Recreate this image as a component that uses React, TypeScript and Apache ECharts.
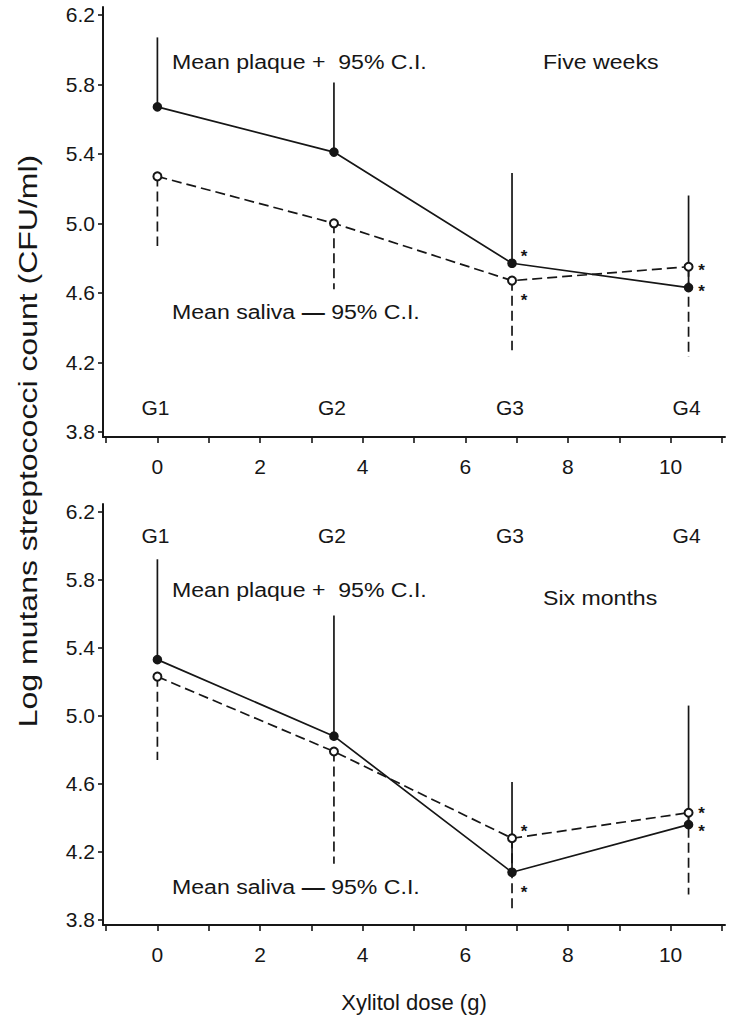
import React, { useEffect, useRef } from "react";
import * as echarts from "echarts";

// ---------- data ----------
const groups = ["G1", "G2", "G3", "G4"];
const dose = [0, 3.44, 6.91, 10.35];

const fiveWeeksPlaque = [5.67, 5.41, 4.77, 4.63];
const fiveWeeksPlaqueUpper = [6.07, 5.81, 5.29, 5.16];
const fiveWeeksSaliva = [5.27, 5.0, 4.67, 4.75];
const fiveWeeksSalivaLower = [4.87, 4.62, 4.27, 4.23];
const fiveWeeksPlaqueStar = ["", "", "above", "right"];
const fiveWeeksSalivaStar = ["", "", "below", "right"];

const sixMonthsPlaque = [5.33, 4.88, 4.08, 4.36];
const sixMonthsPlaqueUpper = [5.92, 5.59, 4.61, 5.06];
const sixMonthsSaliva = [5.23, 4.79, 4.28, 4.43];
const sixMonthsSalivaLower = [4.74, 4.13, 3.86, 3.95];
const sixMonthsPlaqueStar = ["", "", "below", "downright"];
const sixMonthsSalivaStar = ["", "", "above", "upright"];

const yTicks = [3.8, 4.2, 4.6, 5.0, 5.4, 5.8, 6.2];
const xTicks = [-1, 0, 1, 2, 3, 4, 5, 6, 7, 8, 9, 10, 11];
const xTickLabels = [0, 2, 4, 6, 8, 10];

const panelTitles = ["Five weeks", "Six months"];
const plaqueNote = "Mean plaque +  95% C.I.";
const salivaNote = "Mean saliva {b|\u2014} 95% C.I.";
const xTitle = "Xylitol dose (g)";
const yTitle = "Log mutans streptococci count (CFU/ml)";

// ---------- styles ----------
const INK = "#161616";
const FONT = "'Liberation Sans', Arial, sans-serif";

const STAR_OFFSETS: Record<string, number[]> = {
  above: [12, -11],
  below: [12, 16],
  right: [13, 0],
  upright: [13, -3],
  downright: [13, 3],
};

function lineSeries(idx: number, values: number[], dashed: boolean) {
  return {
    type: "line",
    xAxisIndex: idx,
    yAxisIndex: idx,
    data: dose.map((d, i) => [d, values[i]]),
    symbol: dashed ? "emptyCircle" : "circle",
    symbolSize: 8,
    showSymbol: true,
    itemStyle: { color: INK, borderColor: INK, borderWidth: 1.6 },
    lineStyle: { color: INK, width: 1.7, type: dashed ? [10, 5] : "solid" },
    z: 3,
    silent: true,
  };
}

function errorBarSeries(idx: number, means: number[], bounds: number[], dashed: boolean) {
  return {
    type: "custom",
    xAxisIndex: idx,
    yAxisIndex: idx,
    data: dose.map((d, i) => [d, means[i], bounds[i]]),
    renderItem: (params: any, api: any) => {
      const p1 = api.coord([api.value(0), api.value(1)]);
      const p2 = api.coord([api.value(0), api.value(2)]);
      return {
        type: "line",
        shape: { x1: p1[0], y1: p1[1], x2: p2[0], y2: p2[1] },
        style: { stroke: INK, lineWidth: 1.7, lineDash: dashed ? [10, 5] : null, fill: null },
      };
    },
    z: 2,
    silent: true,
  };
}

function starSeries(idx: number, values: number[], places: string[]) {
  const idxs = places.map((p, i) => (p ? i : -1)).filter((i) => i >= 0);
  return {
    type: "custom",
    xAxisIndex: idx,
    yAxisIndex: idx,
    data: idxs.map((i) => [dose[i], values[i]]),
    renderItem: (params: any, api: any) => {
      const i = idxs[params.dataIndex];
      const off = STAR_OFFSETS[places[i]] || [13, 0];
      const p = api.coord([api.value(0), api.value(1)]);
      return {
        type: "text",
        x: p[0] + off[0],
        y: p[1] + off[1] + 4,
        style: {
          text: "*",
          fontSize: 17,
          fontWeight: "bold",
          fontFamily: FONT,
          fill: INK,
          align: "center",
          verticalAlign: "middle",
        },
      };
    },
    z: 4,
    silent: true,
  };
}

function groupLabelSeries(idx: number, level: number) {
  return {
    type: "custom",
    xAxisIndex: idx,
    yAxisIndex: idx,
    data: dose.map((d) => [d, level]),
    renderItem: (params: any, api: any) => {
      const p = api.coord([api.value(0), api.value(1)]);
      return {
        type: "text",
        x: p[0] - 2,
        y: p[1],
        style: {
          text: groups[params.dataIndex],
          fontSize: 21,
          fontFamily: FONT,
          fill: INK,
          align: "center",
          verticalAlign: "middle",
        },
      };
    },
    z: 4,
    silent: true,
  };
}

function xAxis(idx: number, withName: boolean) {
  return {
    type: "value",
    gridIndex: idx,
    min: -1.06,
    max: 11.06,
    name: withName ? xTitle : "",
    nameLocation: "middle",
    nameGap: 66,
    nameTextStyle: { fontSize: 22, fontFamily: FONT, color: INK },
    axisLine: { show: true, onZero: false, lineStyle: { color: INK, width: 2 } },
    axisTick: { show: true, customValues: xTicks, length: 6, lineStyle: { color: INK, width: 1.6 } },
    axisLabel: {
      show: true,
      customValues: xTickLabels,
      margin: 19,
      fontSize: 21,
      fontFamily: FONT,
      color: INK,
      formatter: (v: number) => String(v),
    },
    splitLine: { show: false },
  };
}

function yAxis(idx: number) {
  return {
    type: "value",
    gridIndex: idx,
    min: 3.77,
    max: 6.245,
    axisLine: { show: true, onZero: false, lineStyle: { color: INK, width: 2 } },
    axisTick: { show: true, customValues: yTicks, length: 5, lineStyle: { color: INK, width: 1.6 } },
    axisLabel: {
      show: true,
      customValues: yTicks,
      margin: 8,
      fontSize: 21,
      fontFamily: FONT,
      color: INK,
      formatter: (v: number) => v.toFixed(1),
    },
    splitLine: { show: false },
  };
}

function note(text: string, x: number, y: number) {
  return {
    type: "text",
    x,
    y,
    scaleX: 1.1,
    style: {
      text,
      fontSize: 21,
      fontFamily: FONT,
      fill: INK,
      align: "left",
      verticalAlign: "middle",
      rich: {
        b: { fontSize: 21, fontFamily: FONT, fontWeight: "bold", fill: INK },
      },
    },
    silent: true,
  };
}

export default function App() {
  const ref = useRef<HTMLDivElement>(null);

  useEffect(() => {
    if (!ref.current) return;
    const chart = echarts.init(ref.current, null, { renderer: "svg" });
    chart.setOption({
      animation: false,
      backgroundColor: "#ffffff",
      grid: [
        { left: 103, top: 7, width: 622, height: 430 },
        { left: 103, top: 504, width: 622, height: 421 },
      ],
      xAxis: [xAxis(0, false), xAxis(1, true)],
      yAxis: [yAxis(0), yAxis(1)],
      graphic: [
        {
          type: "text",
          x: 28,
          y: 441,
          rotation: Math.PI / 2,
          scaleX: 1.28,
          style: {
            text: yTitle,
            fontSize: 25,
            fontFamily: FONT,
            fill: INK,
            align: "center",
            verticalAlign: "middle",
          },
          silent: true,
        },
        note(plaqueNote, 172, 62),
        note(panelTitles[0], 543, 62),
        note(salivaNote, 172, 312),
        note(plaqueNote, 172, 590),
        note(panelTitles[1], 543, 598),
        note(salivaNote, 172, 887),
      ],
      series: [
        errorBarSeries(0, fiveWeeksPlaque, fiveWeeksPlaqueUpper, false),
        errorBarSeries(0, fiveWeeksSaliva, fiveWeeksSalivaLower, true),
        lineSeries(0, fiveWeeksPlaque, false),
        lineSeries(0, fiveWeeksSaliva, true),
        starSeries(0, fiveWeeksPlaque, fiveWeeksPlaqueStar),
        starSeries(0, fiveWeeksSaliva, fiveWeeksSalivaStar),
        groupLabelSeries(0, 3.94),

        errorBarSeries(1, sixMonthsPlaque, sixMonthsPlaqueUpper, false),
        errorBarSeries(1, sixMonthsSaliva, sixMonthsSalivaLower, true),
        lineSeries(1, sixMonthsPlaque, false),
        lineSeries(1, sixMonthsSaliva, true),
        starSeries(1, sixMonthsPlaque, sixMonthsPlaqueStar),
        starSeries(1, sixMonthsSaliva, sixMonthsSalivaStar),
        groupLabelSeries(1, 6.06),
      ],
    });
    return () => chart.dispose();
  }, []);

  return (
    <div
      ref={ref}
      style={{ position: "absolute", left: 0, top: 0, width: 736, height: 1025, background: "#fff" }}
    />
  );
}
